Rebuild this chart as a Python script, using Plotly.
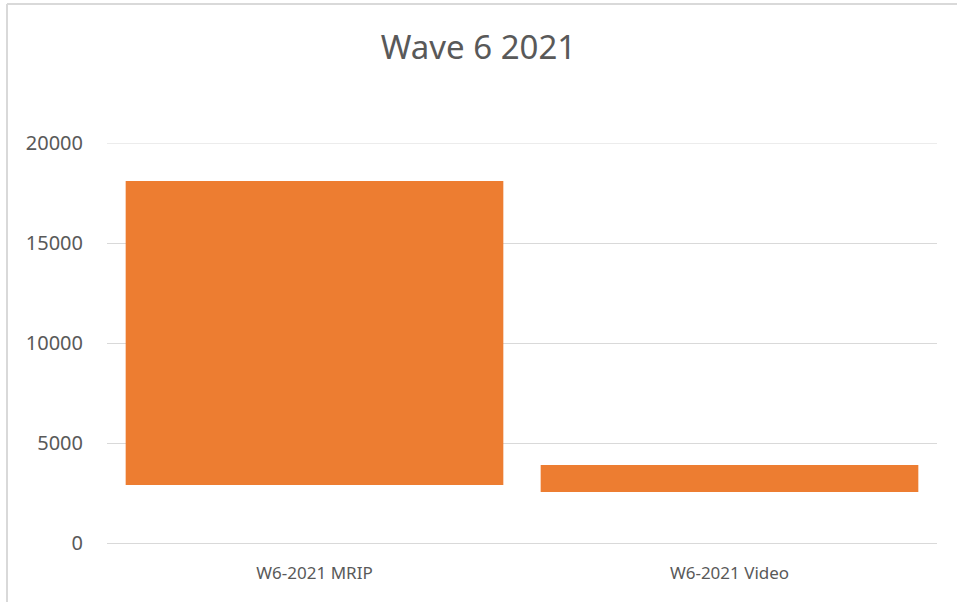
import plotly.graph_objects as go

categories = ["W6-2021 MRIP", "W6-2021 Video"]
low_values = [2900, 2550]
high_values = [18100, 3900]
tick_values = [0, 5000, 10000, 15000, 20000]
tick_labels = ["0", "5000", "10000", "15000", "20000"]

W, H = 957, 602
L, R, T, B = 107, 20, 143, 59
pw = W - L - R
ph = H - T - B

fig = go.Figure(go.Bar(
    x=categories,
    y=[h - l for h, l in zip(high_values, low_values)],
    base=low_values,
    marker=dict(color="#ED7D31", line=dict(width=0)),
    hoverinfo="skip",
))

fig.update_layout(
    width=W, height=H,
    margin=dict(l=L, r=R, t=T, b=B, pad=0),
    paper_bgcolor="white", plot_bgcolor="white",
    bargap=0.09,
    showlegend=False,
    font=dict(family="Noto Sans, Open Sans, sans-serif", color="#595959"),
    title=dict(text="Wave 6 2021", x=0.5, xanchor="center", y=1 - 47 / H, yanchor="middle",
               font=dict(size=33, color="#595959")),
    xaxis=dict(showgrid=False, showline=True, linecolor="#D9D9D9", linewidth=1,
               tickfont=dict(size=17, color="#595959"), ticks="", ticklen=0,
               ticklabelstandoff=15),
    yaxis=dict(range=[0, 20000], tickvals=tick_values, ticktext=tick_labels,
               showgrid=True, gridcolor="#D9D9D9",
               gridwidth=1, zeroline=False, showline=False, ticks="",
               tickfont=dict(size=20, color="#595959"), ticklabelstandoff=23),
    shapes=[
        dict(type="line", xref="paper", yref="y", layer="below",
             x0=0, x1=1, y0=tick_values[-1], y1=tick_values[-1],
             line=dict(color="#D9D9D9", width=1)),
        dict(type="line", xref="paper", yref="paper",
             x0=(7 - L) / pw, x1=(7 - L) / pw, y0=(H - B - 4) / ph, y1=-(B + 5) / ph,
             line=dict(color="#D9D9D9", width=2)),
        dict(type="line", xref="paper", yref="paper",
             x0=(7 - L) / pw, x1=(W + 5 - L) / pw, y0=(H - B - 4) / ph, y1=(H - B - 4) / ph,
             line=dict(color="#D9D9D9", width=2)),
    ],
)

fig.write_html("out.html")
